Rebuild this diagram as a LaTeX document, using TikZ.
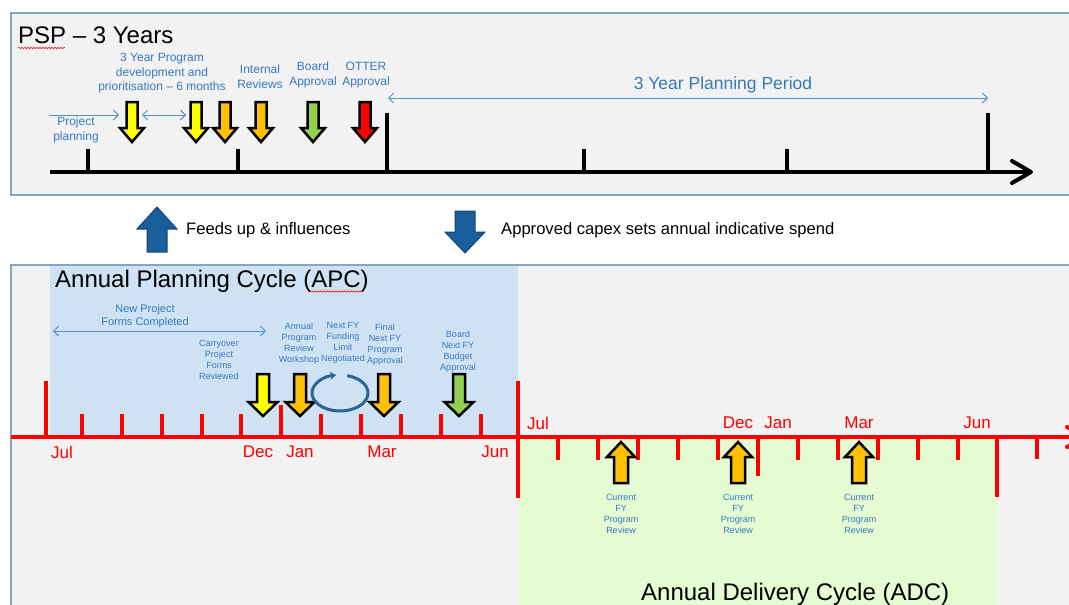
\documentclass[tikz,border=0pt]{standalone}
\usepackage{fontspec}
\setmainfont{Liberation Sans}
\usetikzlibrary{arrows.meta,decorations.pathmorphing}

\definecolor{panel}{RGB}{242,242,242}
\definecolor{frame}{RGB}{135,165,195}
\definecolor{apcfill}{RGB}{207,226,243}
\definecolor{adcfill}{RGB}{229,251,210}
\definecolor{notetext}{RGB}{55,120,190}
\definecolor{noteline}{RGB}{85,145,205}
\definecolor{tlred}{RGB}{255,0,0}
\definecolor{bigblue}{RGB}{25,95,155}
\definecolor{bigblueedge}{RGB}{20,70,115}
\definecolor{ayellow}{RGB}{255,255,0}
\definecolor{aorange}{RGB}{255,192,0}
\definecolor{agreen}{RGB}{146,208,80}
\definecolor{ared}{RGB}{255,0,0}
\definecolor{cyc}{RGB}{40,100,150}

\tikzset{
  % block arrow with its tip at the origin, body pointing up:
  % #1 length, #2 half shaft width, #3 half head width, #4 head length
  pics/blk/.style n args={4}{code={
    \path[pic actions] (0,0) -- (#3,-#4) -- (#2,-#4) -- (#2,-#1)
      -- (-#2,-#1) -- (-#2,-#4) -- (-#3,-#4) -- cycle;}},
  milestone/.style={draw=black, line width=2.5pt, line join=miter},
  feedarrow/.style={draw=bigblueedge, fill=bigblue, line width=1pt},
  note/.style={text=notetext, align=center, inner sep=0pt,
    font=\fontsize{12}{14.5}\selectfont},
  midnote/.style={note, font=\fontsize{11}{13}\selectfont},
  smallnote/.style={note, font=\fontsize{9}{11}\selectfont},
  month/.style={text=tlred, inner sep=0pt, font=\fontsize{17}{17}\selectfont},
  heading/.style={inner sep=0pt, anchor=base west, font=\fontsize{24}{24}\selectfont},
  plain/.style={inner sep=0pt, anchor=west, font=\fontsize{16.6}{17}\selectfont},
  spanline/.style={draw=noteline, line width=0.9pt,
    {Straight Barb[length=5pt,width=10pt]}-{Straight Barb[length=5pt,width=10pt]}},
  leadline/.style={draw=noteline, line width=0.9pt,
    -{Straight Barb[length=5pt,width=10pt]}},
  blackline/.style={draw=black, line width=4pt},
  redline/.style={draw=tlred, line width=4pt},
  squiggle/.style={draw=tlred, line width=0.5pt, decorate,
    decoration={snake, amplitude=0.8pt, segment length=3pt}},
}

\begin{document}
\begin{tikzpicture}[x=1pt,y=-1pt]
\useasboundingbox (0,0) rectangle (1069,605);
\clip (0,0) rectangle (1069,605);

% ---------- panels ----------
\draw[draw=frame, fill=panel, line width=1.5pt] (11,13) rectangle (1085,195);
\draw[draw=frame, fill=panel, line width=1.5pt] (11,265) rectangle (1085,625);
\fill[apcfill] (50,266) rectangle (518,437);
\fill[adcfill] (518,437) rectangle (997,610);

% ---------- PSP: three year timeline ----------
\node[heading] (psp) at (18,43.5) {PSP – 3 Years};
\draw[squiggle] (18,48) -- (65,48);

\coordinate (tstart) at (50,172);
\coordinate (tend) at (1031,172);
\draw[blackline] (tstart) -- (tend);
\draw[blackline, line cap=round, line join=round] (1012,161) -- (tend) -- (1012,183);
\foreach \x/\top in {88/149, 238/149, 387/113, 584/149, 787/149, 988/113}
  \draw[blackline] (\x,\top) -- (\x,172);

\node[note] (pp) at (76,130) {Project\\planning};
\coordinate (ppa) at (49,115);
\coordinate (ppb) at (119,115);
\draw[leadline] (ppa) -- (ppb);
\coordinate (deva) at (142,115);
\coordinate (devb) at (186,115);
\draw[spanline] (deva) -- (devb);
\node[note] (dev) at (162,73.5) {3 Year Program\\development and\\prioritisation – 6 months};
\node[note] (ir) at (260,76.5) {Internal\\Reviews};
\node[note] (ba) at (313,75) {Board\\Approval};
\node[note] (oa) at (366,75) {OTTER\\Approval};
\node[note, font=\fontsize{17.5}{17.5}\selectfont] (period) at (723,85) {3 Year Planning Period};
\coordinate (pera) at (388,98);
\coordinate (perb) at (988,98);
\draw[spanline] (pera) -- (perb);

\foreach \x/\c in {132/ayellow, 196/ayellow, 225/aorange, 261/aorange, 313/agreen, 365/ared}
  \pic[milestone, fill=\c] at (\x,142) {blk={40}{5.5}{12}{14}};

% ---------- links between the two levels ----------
\pic[feedarrow, rotate=180] at (157,207) {blk={45}{10}{20}{22}};
\node[plain] (feeds) at (186,230) {Feeds up \& influences};
\pic[feedarrow] at (465,253) {blk={42}{10}{20}{21}};
\node[plain] (capex) at (501,230) {Approved capex sets annual indicative spend};

% ---------- annual planning / delivery cycles ----------
\node[heading] (apc) at (55,287) {Annual Planning Cycle (APC)};
\draw[squiggle] (311,291.5) -- (362,291.5);
\node[heading] (adc) at (641,600) {Annual Delivery Cycle (ADC)};

\node[midnote] (npf) at (145,316) {New Project\\Forms Completed};
\coordinate (npa) at (53,331);
\coordinate (npb) at (266,331);
\draw[spanline] (npa) -- (npb);
\node[smallnote] (cpf) at (219,360) {Carryover\\Project\\Forms\\Reviewed};
\node[smallnote] (aprw) at (299,344) {Annual\\Program\\Review\\Workshop};
\node[smallnote] (nff) at (343,342.5) {Next FY\\Funding\\Limit\\Negotiated};
\node[smallnote] (fnp) at (385,345) {Final\\Next FY\\Program\\Approval};
\node[smallnote] (bnb) at (458,351.5) {Board\\Next FY\\Budget\\Approval};

% red month axis
\coordinate (rstart) at (11,437);
\coordinate (rend) at (1087,437);
\draw[redline] (rstart) -- (rend);
\draw[redline, line cap=round, line join=round] (1067,427) -- (rend) -- (1067,447);
\foreach \x/\top in {46/381, 82/414, 122/414, 162/414, 202/414, 241/414, 281/405,
                     321/414, 361/414, 401/414, 441/414, 481/414}
  \draw[redline] (\x,\top) -- (\x,437);
\draw[redline] (518,381) -- (518,498);
\foreach \x/\bot in {558/460, 598/460, 638/460, 678/460, 718/460, 758/476,
                     798/460, 838/460, 878/460, 918/460, 958/460, 997/497, 1037/459}
  \draw[redline] (\x,437) -- (\x,\bot);

\foreach \m/\x in {Jul/62, Dec/258, Jan/300, Mar/382, Jun/495}
  \node[month] (lo\m) at (\x,452) {\m};
\foreach \m/\x in {Jul/538, Dec/738, Jan/778, Mar/859, Jun/977}
  \node[month] (hi\m) at (\x,423) {\m};

% planning milestones
\foreach \x/\c in {263/ayellow, 300/aorange, 384/aorange, 459/agreen}
  \pic[milestone, fill=\c] at (\x,416) {blk={42}{6}{14.5}{14}};

% funding negotiation loop
\draw[draw=cyc, line width=3pt, -{Stealth[length=6pt,width=8pt]}]
  (340,393) ++(-75:28 and 18) arc[start angle=-75, end angle=262, x radius=28, y radius=18];

% delivery reviews
\foreach \x/\n in {621/1, 738/2, 859/3}{
  \pic[milestone, fill=aorange, rotate=180] at (\x,442) {blk={41}{7}{14}{15}};
  \node[smallnote] (rev\n) at (\x,514) {Current\\FY\\Program\\Review};
}
\end{tikzpicture}
\end{document}
